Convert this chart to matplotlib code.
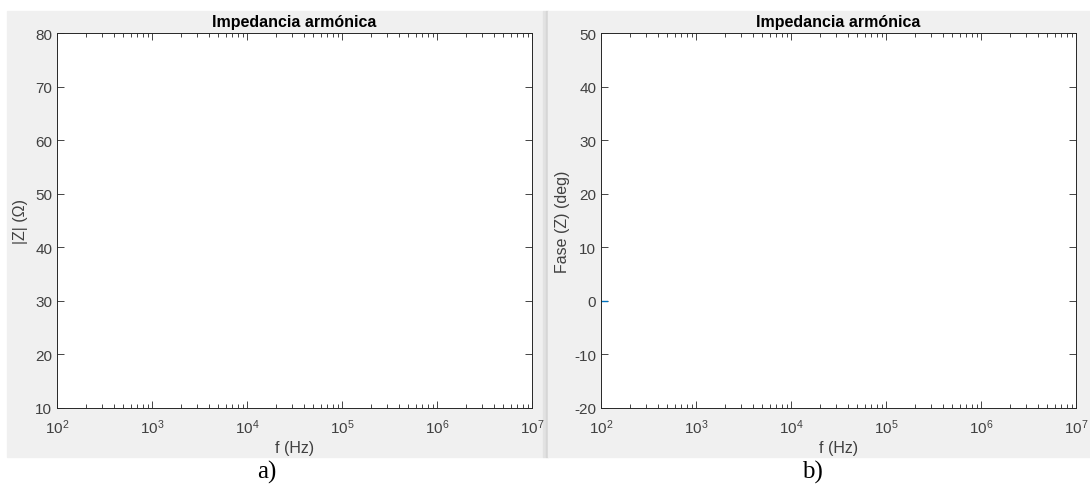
import matplotlib.pyplot as plt
from matplotlib.patches import Rectangle

plt.rcParams['font.family'] = ['Liberation Sans', 'DejaVu Sans']
plt.rcParams['mathtext.fontset'] = 'custom'
plt.rcParams['mathtext.rm'] = 'Liberation Sans'
plt.rcParams['mathtext.it'] = 'Liberation Sans:italic'
plt.rcParams['axes.unicode_minus'] = False

# datos (solo se ve un trozo de la fase cerca de 100 Hz)
f_mod = []
z_mod = []
f_fase = [100, 116]
z_fase = [0, 0]

x_lim = [1e2, 1e7]
y_lim_mod = [10, 80]
y_lim_fase = [-20, 50]
titulo = 'Impedancia armónica'

fig = plt.figure(figsize=(10.9, 4.89), dpi=100, facecolor='white')

# fondo gris tipo MATLAB de cada ventana
fondos = [((7, 31), 536, '#f0f0f0'), ((543, 31), 3, '#e2e2e2'),
          ((546, 31), 2, '#d6d6d6'), ((548, 31), 542, '#f0f0f0')]
for (x0, y0), w, c in fondos:
    fig.patches.append(Rectangle((x0 / 1090, y0 / 489), w / 1090, 446 / 489,
                                 transform=fig.transFigure, color=c, zorder=-5))

ax1 = fig.add_axes([57 / 1090, 80 / 489, 475 / 1090, 375 / 489])
ax2 = fig.add_axes([601 / 1090, 80 / 489, 475 / 1090, 375 / 489])

gris = '#404040'
for ax in (ax1, ax2):
    ax.set_xscale('log')
    ax.set_xlim(x_lim)
    ax.set_title(titulo, fontsize=11.5, fontweight='bold', color='black', pad=5)
    ax.set_xlabel('f (Hz)', fontsize=11.5, color=gris, labelpad=3)
    ax.tick_params(which='both', direction='in', top=True, right=True,
                   labelsize=11, colors='#262626', labelcolor=gris)
    ax.tick_params(which='major', length=5, width=0.6)
    ax.tick_params(which='minor', length=3, width=0.6)
    ax.tick_params(axis='x', pad=7)
    for s in ax.spines.values():
        s.set_color('#262626')
        s.set_linewidth(0.7)

ax1.plot(f_mod, z_mod, color='#0072BD')
ax1.set_ylim(y_lim_mod)
ax1.set_ylabel('|Z| (Ω)', fontsize=11.5, color=gris, labelpad=5)

ax2.plot(f_fase, z_fase, color='#0072BD', linewidth=1)
ax2.set_ylim(y_lim_fase)
ax2.set_ylabel('Fase (Z) (deg)', fontsize=11.5, color=gris, labelpad=3)

fig.text(267 / 1090, 1 - 472 / 489, 'a)', fontsize=18, family='Liberation Serif',
         ha='center', va='center')
fig.text(812 / 1090, 1 - 472 / 489, 'b)', fontsize=18, family='Liberation Serif',
         ha='center', va='center')

fig.savefig('out.png', dpi=100, facecolor='white')
